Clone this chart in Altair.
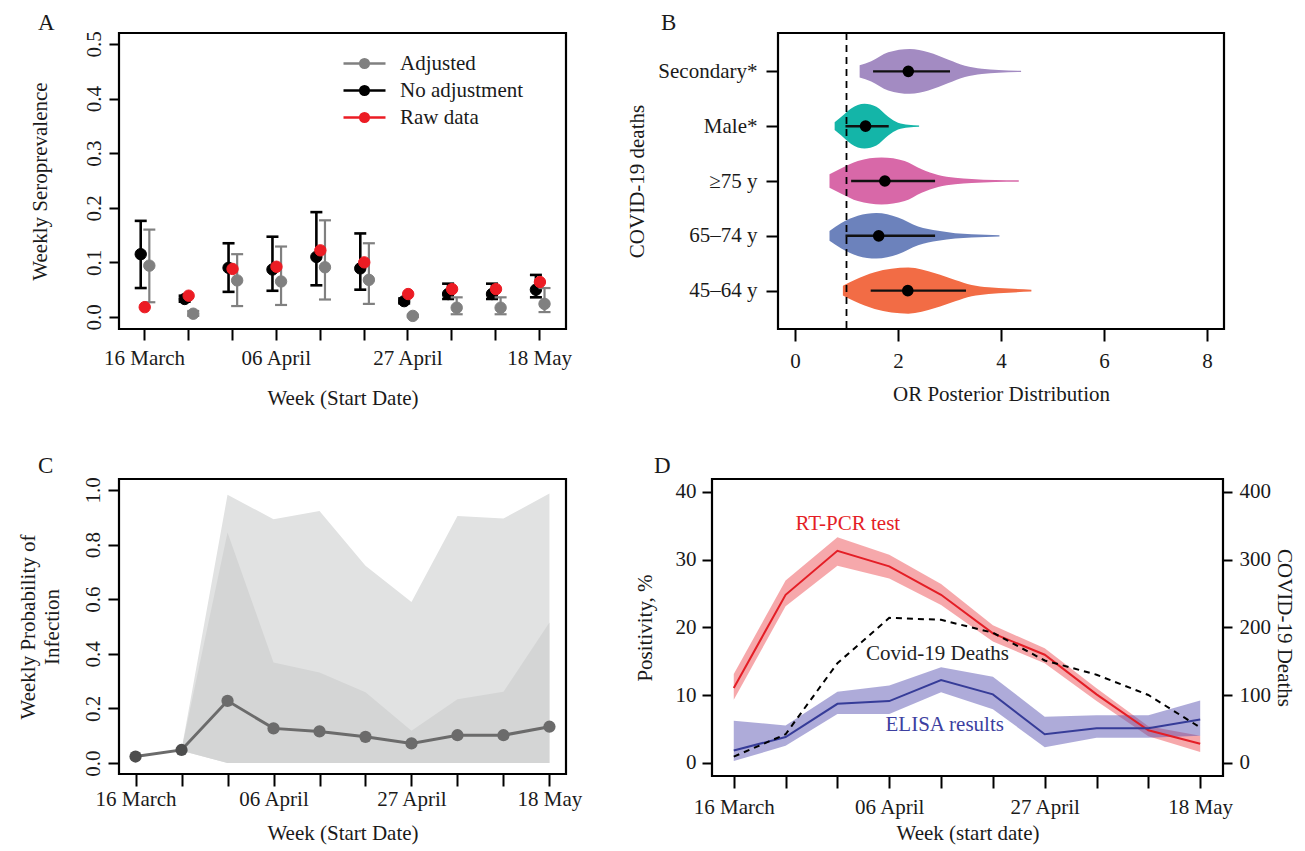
import json
import altair as alt
import pandas as pd

FONT = "Liberation Serif"
INK = "#1a1a1a"
FS = 21

# ---------------- shared week axis ----------------
weeks = list(range(10))
week_labels = ["16 March", "", "", "06 April", "", "", "27 April", "", "", "18 May"]
WEEK_EXPR = json.dumps(week_labels) + "[datum.value]"

# ---------------- Panel A data ----------------
noadj    = [0.115, 0.033, 0.090, 0.087, 0.110, 0.089, 0.029, 0.042, 0.042, 0.050]
noadj_lo = [0.053, 0.028, 0.046, 0.048, 0.058, 0.050, 0.025, 0.033, 0.033, 0.036]
noadj_hi = [0.176, 0.039, 0.135, 0.147, 0.192, 0.153, 0.034, 0.061, 0.061, 0.077]
adj      = [0.094, 0.006, 0.067, 0.065, 0.091, 0.068, 0.002, 0.017, 0.017, 0.024]
adj_lo   = [0.027, 0.002, 0.020, 0.022, 0.032, 0.024, 0.000, 0.005, 0.005, 0.009]
adj_hi   = [0.160, 0.011, 0.115, 0.129, 0.177, 0.135, 0.004, 0.036, 0.036, 0.053]
raw      = [0.018, 0.039, 0.088, 0.092, 0.122, 0.100, 0.042, 0.051, 0.051, 0.064]
series_names = ["Adjusted", "No adjustment", "Raw data"]
series_colors = ["#808080", "#000000", "#EC1C24"]

# ---------------- Panel B data ----------------
groups = ["45\u201364 y", "65\u201374 y", "\u226575 y", "Male*", "Secondary*"]
group_colors = ["#F26C45", "#6C82BC", "#D868A8", "#14B5A8", "#A38BC2"]
or_median = [2.19, 1.625, 1.745, 1.37, 2.20]
or_lo = [1.47, 0.98, 1.09, 0.98, 1.516]
or_hi = [3.32, 2.72, 2.72, 1.82, 3.01]
violin_x = [
    [0.93, 1.157, 1.547, 2.20, 2.72, 3.11, 3.43, 3.76, 4.15, 4.59],
    [0.67, 0.90, 1.22, 1.58, 2.00, 2.39, 2.78, 3.11, 3.43, 3.97],
    [0.67, 0.90, 1.22, 1.68, 2.13, 2.46, 2.78, 3.11, 3.43, 3.89, 4.345],
    [0.77, 0.90, 1.09, 1.35, 1.58, 1.81, 2.00, 2.20, 2.41],
    [1.255, 1.48, 1.81, 2.23, 2.59, 2.98, 3.30, 3.63, 3.955, 4.39],
]
violin_hw = [
    [0.091, 0.195, 0.335, 0.420, 0.317, 0.195, 0.104, 0.061, 0.037, 0.018],
    [0.090, 0.232, 0.366, 0.415, 0.335, 0.170, 0.091, 0.049, 0.030, 0.012],
    [0.122, 0.232, 0.366, 0.427, 0.366, 0.213, 0.110, 0.061, 0.037, 0.018, 0.012],
    [0.070, 0.170, 0.323, 0.408, 0.353, 0.170, 0.061, 0.024, 0.012],
    [0.110, 0.183, 0.347, 0.408, 0.347, 0.213, 0.104, 0.049, 0.024, 0.012],
]
ref_or = [1]

# ---------------- Panel C data ----------------
prob = [0.024, 0.048, 0.228, 0.127, 0.116, 0.096, 0.072, 0.102, 0.102, 0.133]
band_weeks = [1, 2, 3, 4, 5, 6, 7, 8, 9]
outer_hi = [0.050, 0.982, 0.893, 0.923, 0.722, 0.590, 0.905, 0.895, 0.987]
inner_hi = [0.050, 0.844, 0.368, 0.332, 0.259, 0.118, 0.234, 0.261, 0.515]
band_lo = [0.045, 0, 0, 0, 0, 0, 0, 0, 0]

# ---------------- Panel D data ----------------
pcr    = [11.05, 24.8, 31.3, 29.0, 24.8, 19.1, 15.95, 10.1, 4.8, 2.8]
pcr_hi = [13.1, 26.9, 33.3, 30.7, 26.4, 20.3, 16.9, 11.0, 5.4, 4.0]
pcr_lo = [9.3, 23.1, 29.1, 27.2, 23.3, 17.9, 14.7, 9.1, 3.9, 1.6]
elisa    = [1.8, 3.8, 8.7, 9.1, 12.2, 10.1, 4.2, 5.1, 5.1, 6.4]
elisa_hi = [6.2, 5.5, 10.5, 11.4, 14.1, 12.7, 6.8, 7.0, 7.0, 9.2]
elisa_lo = [0.25, 2.5, 7.2, 7.2, 10.4, 7.9, 2.3, 3.7, 3.7, 4.0]
deaths = [9, 42, 147, 214, 211, 192, 151, 130, 100, 52]
ann_text = ["RT-PCR test", "Covid-19 Deaths", "ELISA results"]
ann_week = [2.2, 3.93, 4.07]
ann_value = [35.3, 16.0, 5.55]


def letter(ch, dx, dy):
    """Panel letter, placed relative to the panel's plot area."""
    return alt.Chart(pd.DataFrame(dict(t=[ch]))).mark_text(
        font=FONT, fontSize=23, color=INK, align="left", baseline="alphabetic"
    ).encode(x=alt.value(dx), y=alt.value(dy), text="t:N")


def anchor(dx, dy):
    """Invisible layout anchor that fixes the outer extent of the figure."""
    return alt.Chart(pd.DataFrame(dict(t=["."]))).mark_text(
        font=FONT, fontSize=1, opacity=0, align="left", baseline="top"
    ).encode(x=alt.value(dx), y=alt.value(dy), text="t:N")


# ======================= Panel A =======================
WA, HA = 447, 296
dfA = pd.DataFrame(dict(week=weeks, noadj=noadj, noadj_lo=noadj_lo, noadj_hi=noadj_hi,
                        adj=adj, adj_lo=adj_lo, adj_hi=adj_hi))
ptsA = pd.DataFrame(dict(
    week=weeks * 3,
    series=[series_names[0]] * 10 + [series_names[1]] * 10 + [series_names[2]] * 10,
    value=adj + noadj + raw,
))
sxA = alt.Scale(domain=[-0.57, 9.61], nice=False, zero=False)
syA = alt.Scale(domain=[-0.022, 0.52], nice=False, zero=False)
axAx = alt.Axis(values=weeks, labelExpr=WEEK_EXPR, tickSize=11, labelPadding=7, labelAngle=0,
                title="Week (Start Date)", titleY=58, titleBaseline="top")
axAy = alt.Axis(values=[0, 0.1, 0.2, 0.3, 0.4, 0.5], format=".1f", labelAngle=270,
                labelAlign="center", labelBaseline="bottom", tickSize=10, labelPadding=5,
                title="Weekly Seroprevalence", titleAngle=270, titleX=-89.5, titleY=HA / 2,
                titleAlign="center", titleBaseline="top")
xA = alt.X("week:Q", scale=sxA, axis=axAx)


def yA(field):
    return alt.Y(f"{field}:Q", scale=syA, axis=axAy)


ser_scale = alt.Scale(domain=series_names, range=series_colors)
LEG_PATH = "M-1.5,0L1.5,0M0.3,0A0.3,0.3,0,1,1,-0.3,0A0.3,0.3,0,1,1,0.3,0Z"
legA = alt.Legend(title=None, orient="none", legendX=230, legendY=15, symbolType=LEG_PATH,
                  symbolSize=784, symbolStrokeWidth=2.7, labelFont=FONT, labelFontSize=FS,
                  labelColor=INK, labelOffset=20, rowPadding=1, padding=0, labelLimit=300)


def errbar(lo, hi, color, width, off):
    base = alt.Chart(dfA)
    rule = base.mark_rule(color=color, strokeWidth=width, xOffset=off).encode(
        x=xA, y=yA(lo), y2=f"{hi}:Q")
    caps = [base.mark_tick(color=color, thickness=width, size=12, orient="horizontal",
                           xOffset=off, opacity=1).encode(x=xA, y=yA(f)) for f in (lo, hi)]
    return [rule] + caps


def pts(name, off):
    return alt.Chart(ptsA).transform_filter(alt.datum.series == name).mark_point(
        filled=True, size=130, strokeWidth=1, opacity=1, xOffset=off).encode(
        x=xA, y=yA("value"),
        fill=alt.Fill("series:N", scale=ser_scale, legend=legA),
        stroke=alt.Stroke("series:N", scale=ser_scale, legend=legA))


chartA = alt.layer(
    *errbar("noadj_lo", "noadj_hi", "#000000", 2.6, -3.3),
    pts("No adjustment", -3.3),
    *errbar("adj_lo", "adj_hi", "#808080", 2.2, 5.3),
    pts("Adjusted", 5.3),
    pts("Raw data", 0.7),
    letter("A", -81, -3),
    anchor(0, -60),
).properties(width=WA, height=HA)

# ======================= Panel B =======================
WB, HB = 446, 296
vrows = []
for i, g in enumerate(groups):
    for xv, hv in zip(violin_x[i], violin_hw[i]):
        vrows.append(dict(group=g, pos=i + 1, x=xv, hw=hv))
dfV = pd.DataFrame(vrows)
dfS = pd.DataFrame(dict(group=groups, pos=[1, 2, 3, 4, 5], med=or_median, lo=or_lo, hi=or_hi))
sxB = alt.Scale(domain=[-0.33, 8.33], nice=False, zero=False)
syB = alt.Scale(domain=[0.3, 5.7], nice=False, zero=False)
axBx = alt.Axis(values=[0, 2, 4, 6, 8], tickSize=12, labelPadding=9, labelAngle=0,
                title="OR Posterior Distribution", titleY=54, titleBaseline="top")
axBy = alt.Axis(values=[1, 2, 3, 4, 5], labelExpr=json.dumps(groups) + "[datum.value - 1]",
                tickSize=12, labelPadding=9, labelAngle=0, labelAlign="right",
                labelBaseline="middle", title="COVID-19 deaths", titleAngle=270,
                titleX=-151.5, titleY=HB / 2, titleAlign="center", titleBaseline="top")


def xB(field):
    return alt.X(f"{field}:Q", scale=sxB, axis=axBx)


def yB(field):
    return alt.Y(f"{field}:Q", scale=syB, axis=axBy)


violins = alt.Chart(dfV).transform_calculate(
    upper="datum.pos + datum.hw", lower="datum.pos - datum.hw"
).mark_area(interpolate="monotone", orient="vertical", opacity=1).encode(
    x=xB("x"), y=yB("upper"), y2="lower:Q",
    color=alt.Color("group:N", scale=alt.Scale(domain=groups, range=group_colors), legend=None),
)
refline = alt.Chart(pd.DataFrame(dict(ref=ref_or))).mark_rule(
    color="black", strokeWidth=1.8, strokeDash=[7, 5]).encode(x=xB("ref"))
ci = alt.Chart(dfS).mark_rule(color="#111111", strokeWidth=2.4).encode(
    x=xB("lo"), x2="hi:Q", y=yB("pos"))
meds = alt.Chart(dfS).mark_circle(color="black", size=135, opacity=1).encode(
    x=xB("med"), y=yB("pos"))
chartB = alt.layer(violins, refline, ci, meds, letter("B", -117, -3)).properties(
    width=WB, height=HB)

# ======================= Panel C =======================
WC, HC = 447, 295
dfC = pd.DataFrame(dict(week=weeks, prob=prob))
dfCb = pd.DataFrame(dict(week=band_weeks, outer=outer_hi, inner=inner_hi, lo=band_lo))
sxC = alt.Scale(domain=[-0.36, 9.36], nice=False, zero=False)
syC = alt.Scale(domain=[-0.04, 1.04], nice=False, zero=False)
axCx = alt.Axis(values=weeks, labelExpr=WEEK_EXPR, tickSize=12, labelPadding=2, labelAngle=0,
                title="Week (Start Date)", titleY=48, titleBaseline="top")
axCy = alt.Axis(values=[0, 0.2, 0.4, 0.6, 0.8, 1.0], format=".1f", labelAngle=270,
                labelAlign="center", labelBaseline="bottom", tickSize=11, labelPadding=5,
                title=["Weekly Probability of", "Infection"], titleLineHeight=24,
                titleAngle=270, titleX=-101.5, titleY=HC / 2, titleAlign="center",
                titleBaseline="top")
xC = alt.X("week:Q", scale=sxC, axis=axCx)


def yC(field):
    return alt.Y(f"{field}:Q", scale=syC, axis=axCy)


outer = alt.Chart(dfCb).mark_area(color="#E1E2E2", opacity=1).encode(
    x=xC, y=yC("outer"), y2="lo:Q")
inner = alt.Chart(dfCb).mark_area(color="#D4D5D5", opacity=1).encode(
    x=xC, y=yC("inner"), y2="lo:Q")
lineC = alt.Chart(dfC).mark_line(color="#6B6B6B", strokeWidth=3).encode(x=xC, y=yC("prob"))
ptsC = alt.Chart(dfC).mark_circle(size=150, opacity=1).encode(
    x=xC, y=yC("prob"),
    color=alt.condition("datum.week < 2", alt.value("#4D4D4D"), alt.value("#6B6B6B")))
chartC = alt.layer(outer, inner, lineC, ptsC, letter("C", -81, -6)).properties(
    width=WC, height=HC)

# ======================= Panel D =======================
WD, HD = 511, 297
dfD = pd.DataFrame(dict(week=weeks, pcr=pcr, pcr_hi=pcr_hi, pcr_lo=pcr_lo, elisa=elisa,
                        elisa_hi=elisa_hi, elisa_lo=elisa_lo, deaths=deaths))
dfAnn = pd.DataFrame(dict(text=ann_text, week=ann_week, value=ann_value))
sxD = alt.Scale(domain=[-0.42, 9.44], nice=False, zero=False)
syD = alt.Scale(domain=[-1.96, 41.9], nice=False, zero=False)
syD2 = alt.Scale(domain=[-19.6, 419], nice=False, zero=False)
axDx = alt.Axis(values=weeks, labelExpr=WEEK_EXPR, tickSize=12, labelPadding=8, labelAngle=0,
                title="Week (start date)", titleY=46, titleBaseline="top")
axDy = alt.Axis(values=[0, 10, 20, 30, 40], format="d", tickSize=10, labelPadding=6,
                labelAngle=0, labelAlign="right", labelBaseline="middle",
                title="Positivity, %", titleAngle=270, titleX=-77.5, titleY=HD / 2,
                titleAlign="center", titleBaseline="top")
axDy2 = alt.Axis(orient="right", values=[0, 100, 200, 300, 400], format="d", tickSize=9,
                 labelPadding=7, labelAngle=0, labelAlign="left", labelBaseline="middle",
                 title="COVID-19 Deaths", titleAngle=90, titleX=71, titleY=HD / 2,
                 titleAlign="center", titleBaseline="top")
xD = alt.X("week:Q", scale=sxD, axis=axDx)


def yD(field):
    return alt.Y(f"{field}:Q", scale=syD, axis=axDy)


baseD = alt.Chart(dfD)
pcr_band = baseD.mark_area(color="#E8262D", opacity=0.4).encode(
    x=xD, y=yD("pcr_hi"), y2="pcr_lo:Q")
elisa_band = baseD.mark_area(color="#5550B0", opacity=0.48).encode(
    x=xD, y=yD("elisa_hi"), y2="elisa_lo:Q")
pcr_line = baseD.mark_line(color="#E41E26", strokeWidth=2).encode(x=xD, y=yD("pcr"))
elisa_line = baseD.mark_line(color="#363C98", strokeWidth=2).encode(x=xD, y=yD("elisa"))
ann_colors = ["#E41E26", "#222222", "#3D3FA0"]
anns = [alt.Chart(dfAnn).transform_filter(alt.datum.text == t).mark_text(
    font=FONT, fontSize=FS, color=c, align="center", baseline="middle").encode(
    x=xD, y=yD("value"), text="text:N")
    for t, c in zip(ann_text, ann_colors)]
left_layers = alt.layer(pcr_band, elisa_band, pcr_line, elisa_line, *anns,
                        letter("D", -58, -6))
deaths_line = baseD.mark_line(color="black", strokeWidth=2, strokeDash=[6, 5]).encode(
    x=xD, y=alt.Y("deaths:Q", scale=syD2, axis=axDy2))
chartD = alt.layer(left_layers, deaths_line).resolve_scale(y="independent").properties(
    width=WD, height=HD)

# ======================= Assemble =======================
row1 = alt.hconcat(chartA, chartB, spacing=212, bounds="flush")
row2 = alt.hconcat(chartC, chartD, spacing=146, bounds="flush")
# nested rows have no own height, so the outer spacing is the plot-top to plot-top distance
chart = alt.vconcat(row1, row2, spacing=446, bounds="flush").properties(
    padding={"left": 8, "top": -37, "right": 0, "bottom": 0}
).configure(font=FONT).configure_view(stroke="black", strokeWidth=2.2).configure_axis(
    labelFont=FONT, titleFont=FONT, labelFontSize=FS, titleFontSize=FS,
    titleFontWeight="normal", labelColor=INK, titleColor=INK, tickColor="black",
    tickWidth=2, domain=False, grid=False, labelOverlap=False, labelFlush=False
).configure_legend(labelFont=FONT)

chart.save("out.html", embed_options={"renderer": "svg", "actions": False})
